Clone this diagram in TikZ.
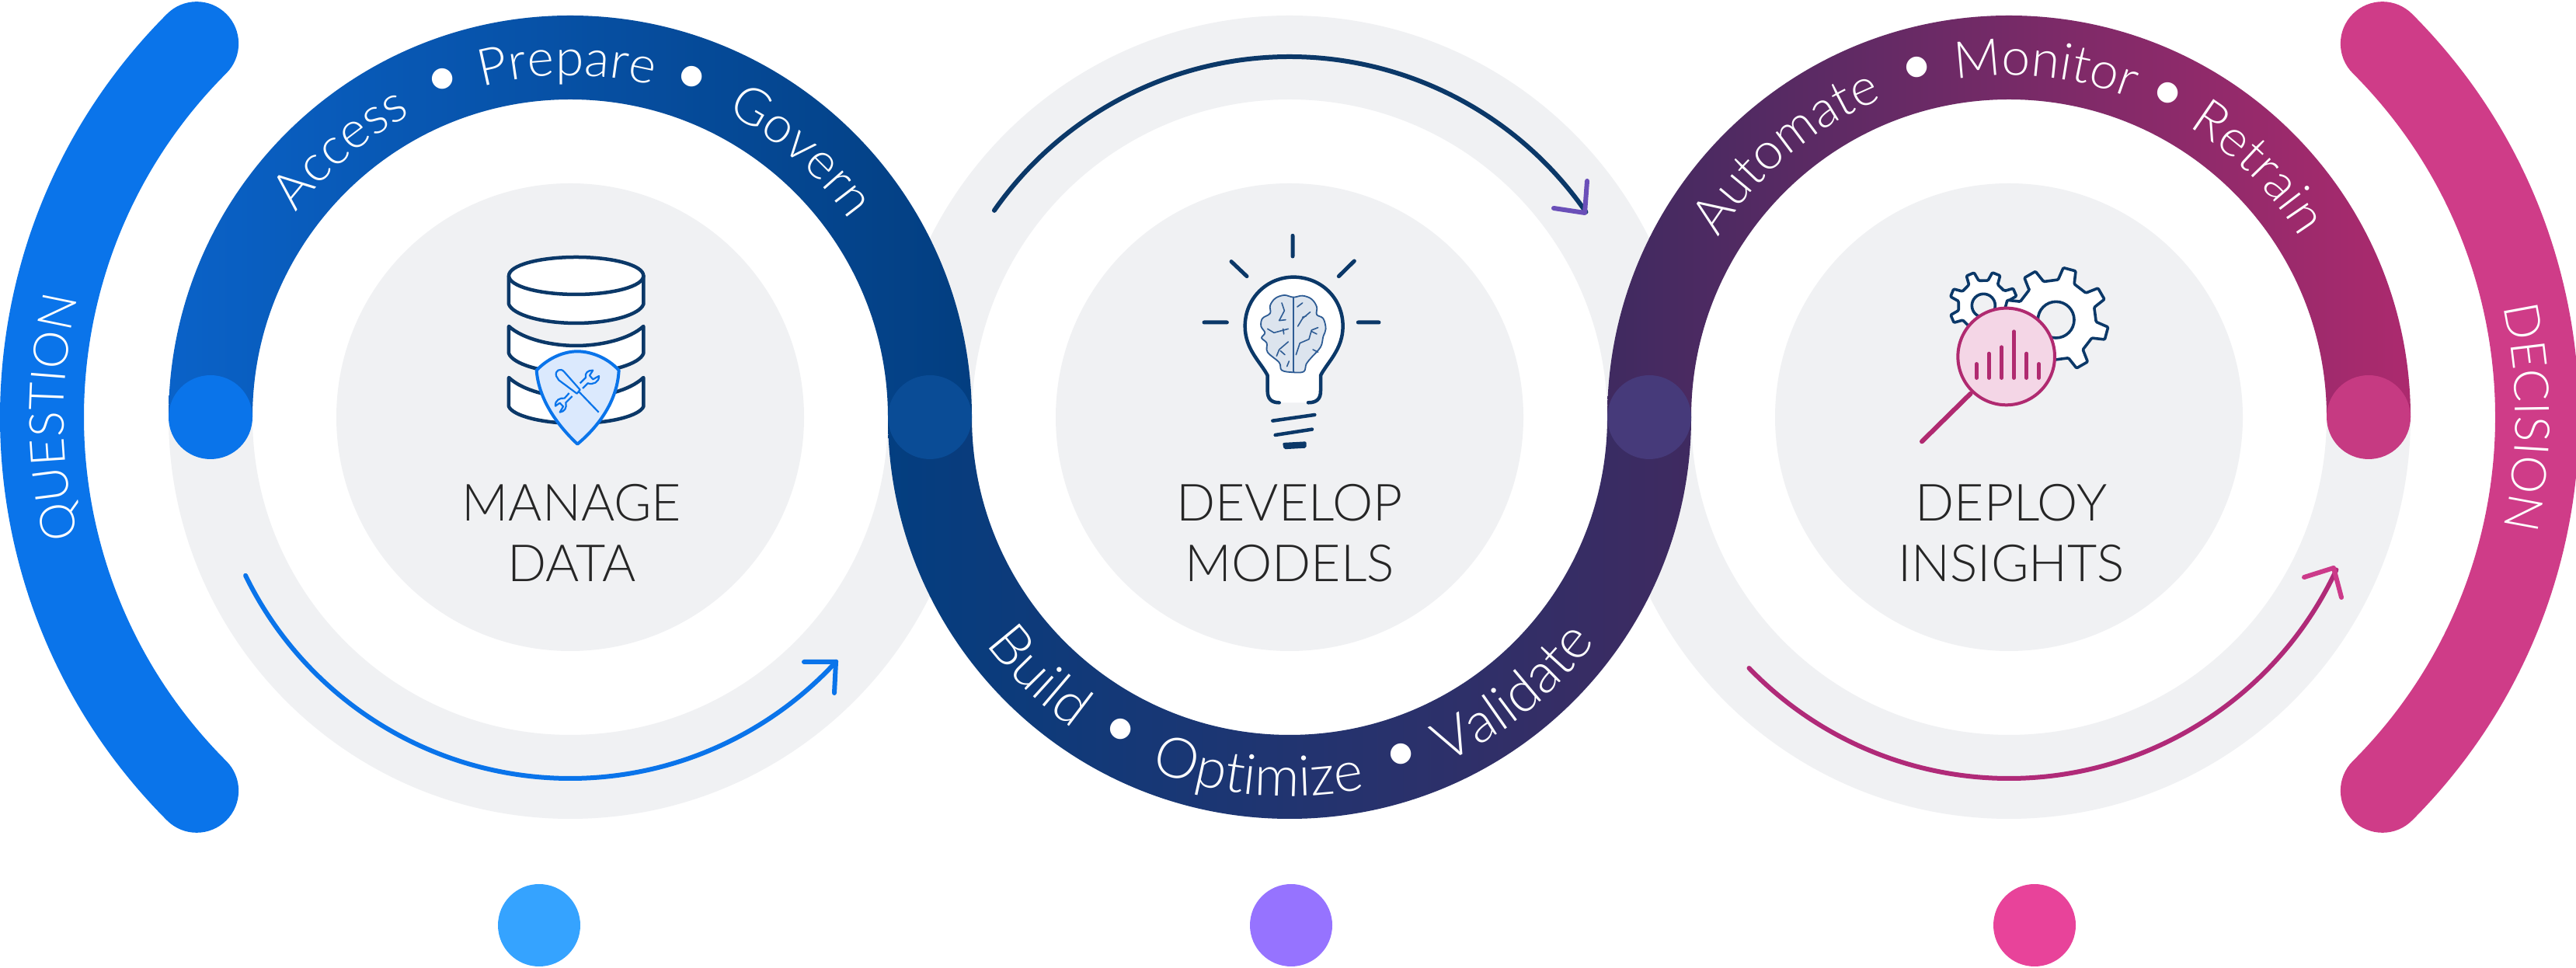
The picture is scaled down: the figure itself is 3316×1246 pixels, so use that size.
\documentclass[tikz,border=0pt]{standalone}
\usepackage{fontspec}
\setmainfont{Lato Light}
\usetikzlibrary{decorations.text,calc}
\definecolor{grayband}{HTML}{F0F1F3}
\definecolor{navy}{HTML}{0B3868}
\definecolor{qblue}{HTML}{0A74EA}
\definecolor{dpink}{HTML}{CF3C88}
\definecolor{r1a}{HTML}{0A62C8}
\definecolor{r1b}{HTML}{0A4A94}
\definecolor{r1c}{HTML}{033E80}
\definecolor{r2b}{HTML}{032C60}
\definecolor{r3a}{HTML}{3F2A60}
\definecolor{r3b}{HTML}{75296A}
\definecolor{r3c}{HTML}{AC2A6E}
\definecolor{j1}{HTML}{0A4C96}
\definecolor{j2}{HTML}{463A7A}
\definecolor{j3}{HTML}{C63A82}
\definecolor{arr3}{HTML}{B02A78}
\definecolor{arr3h}{HTML}{CC3A8A}
\definecolor{arr2h}{HTML}{6A4FB8}
\definecolor{shieldfill}{HTML}{DBE9FD}
\definecolor{brainfill}{HTML}{DCE4EE}
\definecolor{brainline}{HTML}{2E5C94}
\definecolor{magfill}{HTML}{F4D6E6}
\definecolor{magline}{HTML}{B02A70}
\definecolor{d1}{HTML}{35A3FF}
\definecolor{d2}{HTML}{9673FF}
\definecolor{d3}{HTML}{E8439A}
\newcommand\ringfont{\fontsize{66}{66}\selectfont}
\newcommand\botfont{\fontsize{72}{72}\selectfont}
\newcommand\sidefont{\fontsize{62}{62}\selectfont}
% word on a clockwise (top) arc
\newcommand\topword[3]{%
  \pgfmathsetmacro\sa{#2+35}\pgfmathsetmacro\ea{#2-35}%
  \path[wordpath,decoration={text={|\ringfont|#3}}]
    ([shift={(#1,709)}]\sa:440) arc[start angle=\sa,end angle=\ea,radius=440];}
% word on a counter-clockwise (bottom) arc
\newcommand\botword[3]{%
  \pgfmathsetmacro\sa{#2-35}\pgfmathsetmacro\ea{#2+35}%
  \path[wordpath,decoration={text={|\botfont|#3}}]
    ([shift={(#1,709)}]\sa:488) arc[start angle=\sa,end angle=\ea,radius=488];}
\newcommand\gear[6]{%
  \draw[gearline] ([shift={(#1,#2)}]#6-12:#4)
    \foreach \i in {0,...,7}{
      \pgfextra{\pgfmathsetmacro\t{#6+45*\i}\pgfmathsetmacro\ta{\t-12}\pgfmathsetmacro\tb{\t-7}\pgfmathsetmacro\tc{\t+7}\pgfmathsetmacro\td{\t+12}}
      -- ([shift={(#1,#2)}]\ta:#4) -- ([shift={(#1,#2)}]\tb:#3) -- ([shift={(#1,#2)}]\tc:#3) -- ([shift={(#1,#2)}]\td:#4)
    } -- cycle;
  \draw[gearline,fill=grayband] (#1,#2) circle[radius=#5];}
\tikzset{
  wordpath/.style={decorate,decoration={text along path,text align=center,text color=white}},
  bullet/.style={inner sep=0pt,text=white,font=\fontsize{90}{90}\selectfont},
  label/.style={align=center,text=black!85,font=\fontsize{66}{78}\selectfont},
  band/.style={line width=108pt,line cap=round},
  thin arrow/.style={line width=6pt,line cap=round,line join=round},
  px/.style={shift={(0,1246)},x=1pt,y=-1pt},
  iconline/.style={draw=navy,line width=4.5pt,line join=round,line cap=round},
  gearline/.style={draw=navy,line width=3.6pt,line join=round,fill=white,rounded corners=1.2pt},
  raystroke/.style={draw=navy,line width=5pt,line cap=round},
}
\begin{document}
\begin{tikzpicture}[x=1pt,y=1pt]
\useasboundingbox (0,0) rectangle (3316,1246);
\fill[white] (0,0) rectangle (3316,1246);
\begin{scope}
\clip (0,0) rectangle (3316,1246);
% grey bands and discs
\foreach \c in {734,1660,2586}{
  \path[fill=grayband,even odd rule] (\c,709) circle[radius=517] (\c,709) circle[radius=409];
  \fill[grayband] (\c,709) circle[radius=301];
}
% side arcs
\draw[band,qblue] ([shift={(734,709)}]135:680) arc[start angle=135,end angle=225,radius=680];
\draw[band,dpink] ([shift={(2586,709)}]45:680) arc[start angle=45,end angle=-45,radius=680];
\end{scope}
% ring 1 (top half)
\begin{scope}
\clip (217,709) arc[start angle=180,end angle=0,radius=517] -- (1143,709) arc[start angle=0,end angle=180,radius=409] -- cycle;
\shade[left color=r1a,middle color=r1b,right color=r1c] (217,700) rectangle (1251,1240);
\end{scope}
% ring 2 (bottom half)
\begin{scope}
\clip (1143,709) arc[start angle=180,end angle=360,radius=517] -- (2069,709) arc[start angle=360,end angle=180,radius=409] -- cycle;
\shade[left color=r1c,middle color=r2b,right color=r3a] (1143,180) rectangle (2177,720);
\end{scope}
% ring 3 (top half)
\begin{scope}
\clip (2069,709) arc[start angle=180,end angle=0,radius=517] -- (2995,709) arc[start angle=0,end angle=180,radius=409] -- cycle;
\shade[left color=r3a,middle color=r3b,right color=r3c] (2069,700) rectangle (3103,1240);
\end{scope}
% junction discs
\fill[qblue] (271,709) circle[radius=54];
\fill[j1] (1197,709) circle[radius=54];
\fill[j2] (2123,709) circle[radius=54];
\fill[j3] (3049,709) circle[radius=54];
% ring words
\topword{734}{130.5}{Access}
\topword{734}{90.5}{Prepare}
\topword{734}{49}{Govern}
\botword{1660}{226}{Build}
\botword{1660}{265}{Optimize}
\botword{1660}{309}{Validate}
\topword{2586}{130}{Automate}
\topword{2586}{84}{Monitor}
\topword{2586}{45}{Retrain}
\node[bullet] (b1) at ([shift={(734,709)}]111:459) {•};
\node[bullet] (b2) at ([shift={(734,709)}]70:459) {•};
\node[bullet] (b3) at ([shift={(1660,709)}]242:463) {•};
\node[bullet] (b4) at ([shift={(1660,709)}]288:463) {•};
\node[bullet] (b5) at ([shift={(2586,709)}]105:459) {•};
\node[bullet] (b6) at ([shift={(2586,709)}]63.5:459) {•};
% side words
\path[decorate,decoration={text along path,text align=center,text color=white,text={|\sidefont|QUESTION}}]
  ([shift={(734,709)}]205:652) arc[start angle=205,end angle=155,radius=652];
\path[decorate,decoration={text along path,text align=center,text color=white,text={|\sidefont|DECISION}}]
  ([shift={(2586,709)}]25:652) arc[start angle=25,end angle=-25,radius=652];
% labels
\node[label] (l1) at (736,560) {MANAGE\\DATA};
\node[label] (l2) at (1660,560) {DEVELOP\\MODELS};
\node[label] (l3) at (2589,560) {DEPLOY\\INSIGHTS};
% flow arrows
\draw[thin arrow,qblue] ([shift={(734,709)}]206:465) arc[start angle=206,end angle=317.4,radius=465];
\draw[thin arrow,qblue,px] (1035,852) -- (1076,852) -- (1074,892);
\draw[thin arrow,navy] ([shift={(1660,709)}]145:464) arc[start angle=145,end angle=34.7,radius=464];
\draw[thin arrow,arr2h,px] (2000,268) -- (2040,274) -- (2043,233);
\draw[thin arrow,arr3] ([shift={(2586,709)}]224:465) arc[start angle=224,end angle=335,radius=465];
\draw[thin arrow,arr3h,px] (2966,743) -- (3004,731) -- (3014,769);
% legend dots
\fill[d1] (694,55) circle[radius=53];
\fill[d2] (1662,55) circle[radius=53];
\fill[d3] (2619,55) circle[radius=53];
% database icon (zoom coordinates)
\begin{scope}[shift={(560,966)},x=0.3333pt,y=-0.3333pt]
  \draw[iconline,fill=white] (285,618) .. controls (340,670) and (450,695) .. (545,695) .. controls (640,695) and (750,670) .. (805,618) -- (805,730) .. controls (790,765) and (680,795) .. (545,795) .. controls (410,795) and (300,765) .. (285,730) -- cycle;
  \draw[iconline,fill=white] (285,420) .. controls (340,470) and (450,495) .. (545,495) .. controls (640,495) and (750,470) .. (805,420) -- (805,525) .. controls (790,565) and (680,600) .. (545,600) .. controls (410,600) and (300,565) .. (285,525) -- cycle;
  \draw[iconline,fill=white] (285,225) -- (285,335) .. controls (300,375) and (410,408) .. (545,408) .. controls (680,408) and (790,375) .. (805,335) -- (805,225) -- cycle;
  \draw[iconline,fill=white] (285,225) .. controls (285,185) and (400,153) .. (545,153) .. controls (690,153) and (805,185) .. (805,225) .. controls (805,265) and (690,297) .. (545,297) .. controls (400,297) and (285,265) .. (285,225) -- cycle;
  \draw[draw=qblue,line width=4pt,line join=round,fill=shieldfill] (392,590) .. controls (440,540) and (500,517) .. (550,517) .. controls (600,517) and (665,540) .. (710,590) .. controls (705,700) and (640,800) .. (550,875) .. controls (470,800) and (400,700) .. (392,590) -- cycle;
  \draw[draw=qblue,line width=2.2pt,line join=round] (468,612) .. controls (462,590) and (485,580) .. (498,595) -- (560,665) -- (548,680) -- (478,628) -- cycle (558,675) -- (632,752);
  \draw[draw=qblue,line width=2.2pt,line join=round] (560,640) -- (582,618) .. controls (578,600) and (590,590) .. (610,590) -- (597,610) -- (610,625) -- (633,612) .. controls (635,635) and (610,648) .. (590,640) -- (570,660) (530,690) -- (505,715) .. controls (510,735) and (500,750) .. (482,752) -- (495,730) -- (482,716) -- (465,728) .. controls (462,705) and (485,695) .. (500,698) -- (518,678);
\end{scope}
% bulb icon
\begin{scope}[shift={(1500,986)},x=0.3333pt,y=-0.3333pt]
  \draw[raystroke] (492,130) -- (492,210) (255,230) -- (315,287) (730,228) -- (670,287) (150,465) -- (238,465) (745,465) -- (825,465);
  \fill[white] (440,775) .. controls (410,775) and (395,760) .. (395,730) -- (395,670) .. controls (370,620) and (308,570) .. (308,480) .. controls (308,370) and (395,290) .. (495,290) .. controls (600,290) and (686,370) .. (686,480) .. controls (686,570) and (625,620) .. (600,670) -- (600,730) .. controls (600,760) and (585,775) .. (552,775) -- cycle;
  \draw[iconline] (440,775) .. controls (410,775) and (395,760) .. (395,730) -- (395,670) .. controls (370,620) and (308,570) .. (308,480) .. controls (308,370) and (395,290) .. (495,290) .. controls (600,290) and (686,370) .. (686,480) .. controls (686,570) and (625,620) .. (600,670) -- (600,730) .. controls (600,760) and (585,775) .. (552,775);
  \draw[raystroke,line width=4.5pt] (415,845) -- (577,822) (425,900) -- (567,878);
  \fill[navy,rounded corners=2pt] (453,930) -- (545,925) -- (545,950) -- (458,955) -- cycle;
  \draw[draw=brainline,line width=1.8pt,fill=brainfill,line join=round] plot[smooth cycle,tension=0.6] coordinates {(495,368) (460,360) (425,372) (405,400) (405,430) (375,450) (370,480) (385,505) (372,525) (392,545) (395,580) (440,620) (450,650) (495,658) (535,655) (545,625) (565,600) (600,560) (610,520) (620,490) (610,450) (585,435) (585,405) (565,375) (530,362)};
  \draw[draw=brainline,line width=1.8pt,line cap=round] (495,368) -- (495,658);
  \draw[draw=brainline,line width=1.6pt,line cap=round,line join=round] (450,390) -- (460,420) -- (440,458) -- (465,455)
    (395,490) -- (420,505) -- (475,490) (455,490) -- (458,510)
    (475,540) -- (440,570) -- (430,595) (445,575) -- (462,590) (478,615) -- (470,635)
    (530,390) -- (510,405) (560,425) -- (530,450) -- (512,480) (530,445) -- (545,440)
    (590,485) -- (565,495) -- (555,530) -- (520,545) -- (505,590) (565,500) -- (585,510) (570,570) -- (590,580);
\end{scope}
% gears and magnifier icon
\begin{scope}[shift={(2420,936)},x=0.3333pt,y=-0.3333pt]
  \gear{400}{250}{132}{98}{45}{-23}
  \gear{680}{305}{203}{155}{70}{-120}
  \draw[draw=magline,line width=4pt,fill=magfill] (488,447) circle[radius=187];
  \draw[draw=magline,line width=6pt,line cap=round] (350,590) -- (162,775);
  \draw[draw=magline,line width=4.5pt,line cap=round] (373,530) -- (373,475) (421,530) -- (421,435) (470,530) -- (470,410) (517,530) -- (517,350) (566,530) -- (566,435) (614,530) -- (614,475);
\end{scope}
\end{tikzpicture}
\end{document}
